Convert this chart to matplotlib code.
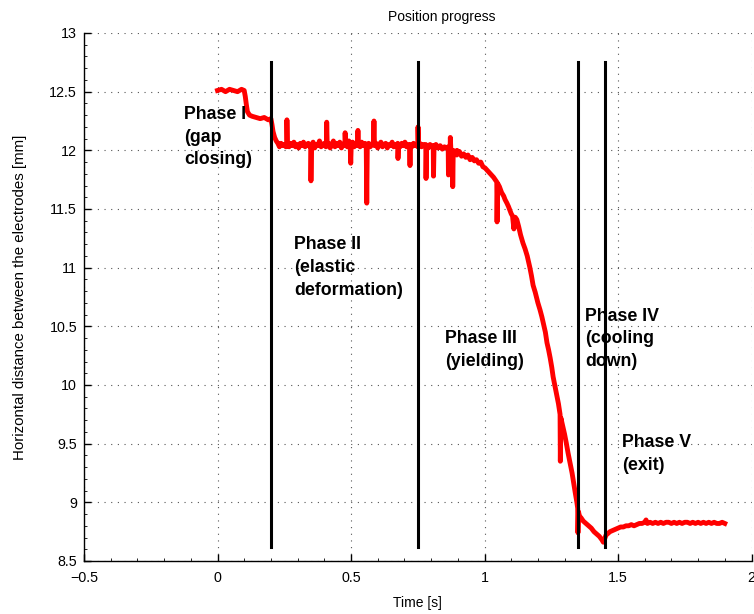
import matplotlib
matplotlib.use("Agg")
import matplotlib.pyplot as plt
from matplotlib.ticker import MultipleLocator

plt.rcParams['font.family'] = ['Liberation Sans', 'DejaVu Sans']

time_s = [
    0.000, 0.015, 0.030, 0.045, 0.060, 0.075, 0.090, 0.100, 0.104, 0.108, 0.112,
    0.120, 0.130, 0.145, 0.160, 0.175, 0.190, 0.200, 0.204, 0.208, 0.214, 0.220,
    0.226, 0.232, 0.238, 0.244, 0.250, 0.256, 0.259, 0.260, 0.262, 0.268, 0.274,
    0.280, 0.286, 0.292, 0.298, 0.304, 0.310, 0.316, 0.322, 0.328, 0.334, 0.340,
    0.346, 0.349, 0.350, 0.352, 0.358, 0.364, 0.370, 0.376, 0.382, 0.388, 0.394,
    0.400, 0.406, 0.408, 0.409, 0.411, 0.416, 0.422, 0.428, 0.434, 0.440, 0.446,
    0.452, 0.458, 0.464, 0.470, 0.476, 0.477, 0.478, 0.480, 0.486, 0.492, 0.497,
    0.499, 0.501, 0.506, 0.512, 0.518, 0.524, 0.526, 0.528, 0.534, 0.540, 0.546,
    0.552, 0.557, 0.559, 0.561, 0.566, 0.572, 0.578, 0.584, 0.586, 0.588, 0.594,
    0.600, 0.606, 0.612, 0.618, 0.624, 0.630, 0.636, 0.642, 0.648, 0.654, 0.660,
    0.666, 0.672, 0.675, 0.676, 0.678, 0.684, 0.690, 0.696, 0.702, 0.708, 0.714,
    0.719, 0.721, 0.723, 0.728, 0.734, 0.740, 0.746, 0.750, 0.751, 0.753, 0.758,
    0.764, 0.770, 0.776, 0.780, 0.781, 0.783, 0.790, 0.796, 0.802, 0.808, 0.809,
    0.811, 0.818, 0.826, 0.834, 0.842, 0.850, 0.858, 0.864, 0.865, 0.867, 0.871,
    0.872, 0.874, 0.880, 0.881, 0.883, 0.890, 0.896, 0.897, 0.899, 0.906, 0.914,
    0.922, 0.930, 0.938, 0.946, 0.954, 0.962, 0.970, 0.978, 0.986, 0.994, 1.002,
    1.010, 1.018, 1.026, 1.034, 1.040, 1.046, 1.047, 1.049, 1.056, 1.064, 1.072,
    1.077, 1.084, 1.090, 1.095, 1.100, 1.105, 1.110, 1.115, 1.121, 1.128, 1.135,
    1.144, 1.152, 1.160, 1.163, 1.170, 1.176, 1.182, 1.190, 1.200, 1.208, 1.215,
    1.222, 1.228, 1.234, 1.240, 1.246, 1.252, 1.257, 1.263, 1.270, 1.277, 1.283,
    1.284, 1.286, 1.292, 1.300, 1.306, 1.313, 1.320, 1.328, 1.335, 1.340, 1.346,
    1.349, 1.350, 1.352, 1.356, 1.361, 1.370, 1.380, 1.390, 1.400, 1.410, 1.420,
    1.430, 1.440, 1.445, 1.450, 1.455, 1.460, 1.470, 1.480, 1.490, 1.500, 1.510,
    1.520, 1.530, 1.540, 1.550, 1.560, 1.570, 1.580, 1.590, 1.600, 1.605, 1.610,
    1.620, 1.630, 1.640, 1.650, 1.660, 1.670, 1.680, 1.690, 1.700, 1.710, 1.720,
    1.730, 1.740, 1.750, 1.760, 1.770, 1.780, 1.790, 1.800, 1.810, 1.820, 1.830,
    1.840, 1.850, 1.860, 1.870, 1.880, 1.890, 1.900,
]
distance_mm = [
    12.51, 12.52, 12.50, 12.52, 12.51, 12.50, 12.52, 12.51, 12.46, 12.39, 12.33,
    12.30, 12.29, 12.28, 12.27, 12.28, 12.26, 12.27, 12.22, 12.16, 12.11, 12.08,
    12.06, 12.03, 12.06, 12.04, 12.05, 12.03, 12.06, 12.26, 12.05, 12.03, 12.06,
    12.04, 12.07, 12.03, 12.05, 12.02, 12.06, 12.04, 12.07, 12.03, 12.05, 12.06,
    12.03, 12.05, 11.74, 12.04, 12.07, 12.02, 12.05, 12.04, 12.08, 12.03, 12.05,
    12.06, 12.03, 12.05, 12.24, 12.04, 12.06, 12.02, 12.05, 12.08, 12.03, 12.06,
    12.04, 12.07, 12.02, 12.05, 12.06, 12.04, 12.15, 12.05, 12.03, 12.08, 12.04,
    11.89, 12.05, 12.07, 12.03, 12.06, 12.04, 12.17, 12.05, 12.03, 12.07, 12.04,
    12.06, 12.05, 11.55, 12.04, 12.06, 12.03, 12.05, 12.07, 12.25, 12.04, 12.06,
    12.02, 12.05, 12.07, 12.03, 12.05, 12.06, 12.02, 12.05, 12.04, 12.07, 12.03,
    12.05, 12.04, 12.06, 11.93, 12.05, 12.03, 12.06, 12.04, 12.07, 12.03, 12.05,
    12.04, 11.87, 12.05, 12.03, 12.06, 12.04, 12.05, 12.03, 12.20, 12.04, 12.06,
    12.03, 12.05, 12.04, 12.05, 11.76, 12.04, 12.02, 12.05, 12.03, 12.04, 11.78,
    12.03, 12.05, 12.02, 12.04, 12.01, 12.03, 12.02, 12.03, 11.79, 12.02, 11.99,
    12.11, 12.01, 11.99, 11.69, 12.00, 11.98, 11.96, 12.00, 11.97, 11.99, 11.95,
    11.97, 11.94, 11.96, 11.92, 11.94, 11.91, 11.92, 11.89, 11.90, 11.86, 11.85,
    11.83, 11.81, 11.79, 11.77, 11.75, 11.73, 11.39, 11.72, 11.69, 11.64, 11.61,
    11.58, 11.55, 11.52, 11.49, 11.46, 11.44, 11.33, 11.43, 11.41, 11.35, 11.28,
    11.21, 11.16, 11.10, 11.07, 11.00, 10.93, 10.85, 10.79, 10.70, 10.64, 10.58,
    10.51, 10.45, 10.36, 10.30, 10.23, 10.15, 10.07, 10.00, 9.92, 9.84, 9.75,
    9.35, 9.72, 9.66, 9.58, 9.51, 9.42, 9.34, 9.25, 9.15, 9.08, 9.00,
    8.95, 8.74, 8.92, 8.88, 8.87, 8.84, 8.82, 8.80, 8.78, 8.75, 8.73,
    8.71, 8.68, 8.66, 8.69, 8.72, 8.73, 8.75, 8.76, 8.77, 8.78, 8.79,
    8.79, 8.80, 8.80, 8.81, 8.80, 8.81, 8.82, 8.82, 8.83, 8.85, 8.82,
    8.83, 8.82, 8.83, 8.82, 8.83, 8.82, 8.83, 8.83, 8.82, 8.83, 8.82,
    8.83, 8.82, 8.83, 8.83, 8.82, 8.83, 8.82, 8.83, 8.82, 8.83, 8.82,
    8.83, 8.82, 8.83, 8.82, 8.82, 8.83, 8.82,
]

# Phase boundaries
phase_bounds = [0.20, 0.75, 1.35, 1.45]
bound_bottom = 8.62
bound_top = 12.75

phase_labels = [
    "Phase I\n(gap\nclosing)",
    "Phase II\n(elastic\ndeformation)",
    "Phase III\n(yielding)",
    "Phase IV\n(cooling\ndown)",
    "Phase V\n(exit)",
]
label_x = [-0.125, 0.287, 0.852, 1.376, 1.515]
label_y = [12.38, 11.27, 10.47, 10.66, 9.58]

fig = plt.figure(figsize=(7.54, 6.14), dpi=100)
ax = fig.add_axes([84 / 754, 53 / 614, 667.5 / 754, 528 / 614])

ax.plot(time_s, distance_mm, color='#ff0000', linewidth=3.5, solid_joinstyle='round', zorder=3)
for xb in phase_bounds:
    ax.plot([xb, xb], [bound_bottom, bound_top], color='black', linewidth=2.2, zorder=4)

for txt, tx, ty in zip(phase_labels, label_x, label_y):
    ax.text(tx, ty, txt, fontsize=12.8, fontweight='bold', va='top', ha='left',
            linespacing=1.45, zorder=5)

ax.set_xlim(-0.5, 2.0)
ax.set_ylim(8.5, 13.0)
ax.set_xticks([-0.5, 0, 0.5, 1, 1.5, 2])
ax.set_xticklabels(['\u22120.5', '0', '0.5', '1', '1.5', '2'])
ax.set_yticks([8.5, 9, 9.5, 10, 10.5, 11, 11.5, 12, 12.5, 13])
ax.set_yticklabels(['8.5', '9', '9.5', '10', '10.5', '11', '11.5', '12', '12.5', '13'])

for s in ['top', 'right']:
    ax.spines[s].set_visible(False)
for s in ['left', 'bottom']:
    ax.spines[s].set_linewidth(1.0)
ax.tick_params(direction='in', length=5, width=1.0, labelsize=10.3)
ax.tick_params(axis='x', pad=7)
ax.tick_params(axis='y', pad=5)
ax.tick_params(which='minor', direction='in', length=2, width=0.6)
ax.xaxis.set_minor_locator(MultipleLocator(0.1))
ax.yaxis.set_minor_locator(MultipleLocator(0.1))

ax.grid(True, which='major', color='#555555', linestyle=(0, (1, 5)), linewidth=0.8)

ax.set_title('Position progress', fontsize=10, pad=9, x=0.536)
ax.set_xlabel('Time [s]', fontsize=10, labelpad=8)
ax.set_ylabel('Horizontal distance between the electrodes [mm]', fontsize=10.8, labelpad=16)

fig.savefig('out.png', dpi=100)
